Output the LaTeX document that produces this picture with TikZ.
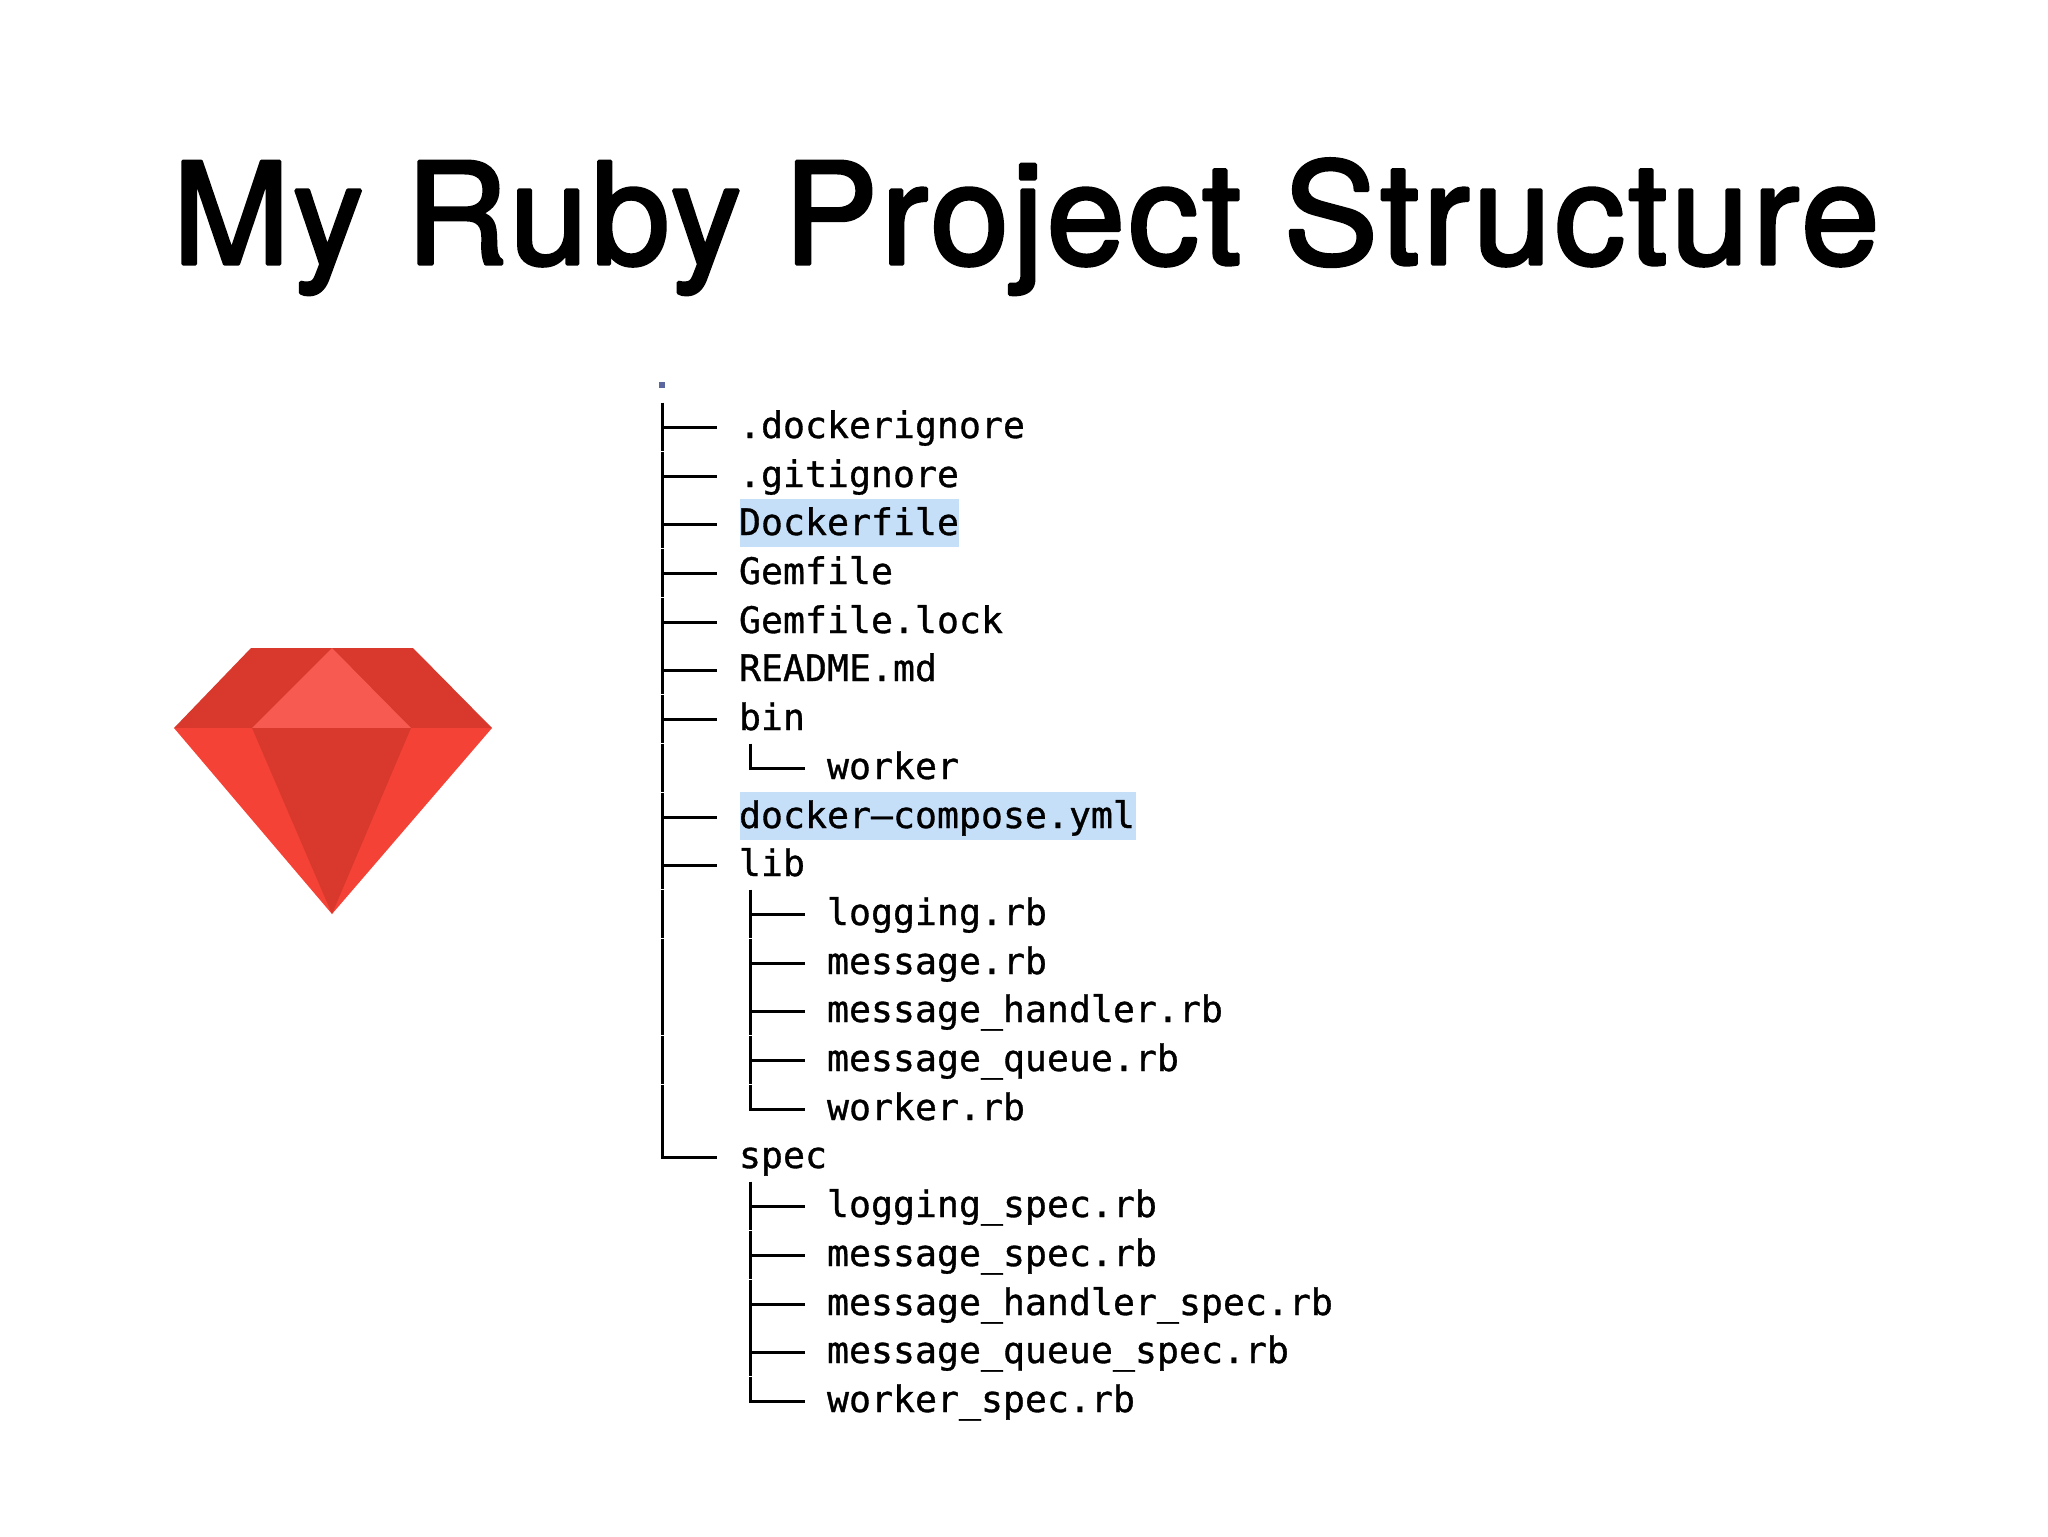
\documentclass[tikz,border=0pt]{standalone}
\usepackage{fontspec}
\setmainfont{Liberation Sans}
\newfontfamily\treefont[FakeBold=0.9]{DejaVu Sans Mono}
\newfontfamily\titlefont[FakeBold=2.4,LetterSpace=2.3]{TeX Gyre Heros}
\definecolor{gemdark}{HTML}{D8392C}
\definecolor{gemmid}{HTML}{F44336}
\definecolor{gemlight}{HTML}{F65A50}
\definecolor{hilite}{HTML}{C6DFF9}
\definecolor{rootdot}{HTML}{5B679E}
\tikzset{
  treeline/.style={draw=black,line width=1.8pt},
  treelabel/.style={anchor=base west,inner sep=0pt,outer sep=0pt,font=\treefont\fontsize{18.27}{20}\selectfont,text=black},
  facet/.style={draw=none},
  hilitebox/.style={fill=hilite,draw=none},
}
\newcommand{\rowy}[1]{round(427+48.7*#1)+0.5}
\begin{document}
\begin{tikzpicture}[x=0.5pt,y=-0.5pt]
\useasboundingbox (0,0) rectangle (2048,1536);
\fill[white] (0,0) rectangle (2048,1536);
\begin{scope}[line join=bevel]
\node[anchor=base,inner sep=0pt,font=\titlefont\fontsize{70.5}{76}\selectfont] (title) at (1026,264) {My Ruby Project Structure};
\end{scope}
% gem
\fill[facet,gemdark] (251,648) -- (413,648) -- (492,728) -- (174,728) -- cycle;
\fill[facet,gemmid] (174,728) -- (492,728) -- (332,914) -- cycle;
\fill[facet,gemlight] (332,648) -- (411,728) -- (252,728) -- cycle;
\fill[facet,gemdark] (252,728) -- (411,728) -- (332,914) -- cycle;
% highlights
\fill[hilitebox] (740,{\rowy{2}-26}) rectangle (959,{\rowy{2}+22.5});
\fill[hilitebox] (740,{\rowy{8}-26}) rectangle (1136,{\rowy{8}+22.5});
% root
\fill[rootdot] (659,382) rectangle (665,388);
% trunk, one piece per row
\foreach \i in {0,...,14}{
  \coordinate (p\i) at (662.5,{\rowy{\i}-24.8});
  \coordinate (q\i) at (662.5,{\rowy{\i}+23.2});
  \draw[treeline] (p\i) -- (q\i);
}
\coordinate (p15) at (662.5,{\rowy{15}-24.8});
\coordinate (q15) at (662.5,{\rowy{15}+1.8});
\draw[treeline] (p15) -- (q15);
\foreach \i/\t in {0/.dockerignore,1/.gitignore,2/Dockerfile,3/Gemfile,4/Gemfile.lock,5/README.md,6/bin,8/docker–compose.yml,9/lib,15/spec}{
  \coordinate (a\i) at (662.5,{\rowy{\i}});
  \coordinate (b\i) at (717,{\rowy{\i}});
  \node[treelabel] (t\i) at (739,{\rowy{\i}+10.5}) {\t};
  \draw[treeline] (a\i) -- (b\i);
}
\foreach \i/\t in {7/worker,10/logging.rb,11/message.rb,12/message\_handler.rb,13/message\_queue.rb,14/worker.rb,16/logging\_spec.rb,17/message\_spec.rb,18/message\_handler\_spec.rb,19/message\_queue\_spec.rb,20/worker\_spec.rb}{
  \coordinate (a\i) at (750.5,{\rowy{\i}});
  \coordinate (b\i) at (805,{\rowy{\i}});
  \node[treelabel] (t\i) at (827,{\rowy{\i}+10.5}) {\t};
  \draw[treeline] (a\i) -- (b\i);
}
\foreach \i in {10,11,12,13,16,17,18,19}{
  \coordinate (p\i) at (750.5,{\rowy{\i}-24.8});
  \coordinate (q\i) at (750.5,{\rowy{\i}+23.2});
  \draw[treeline] (p\i) -- (q\i);
}
\foreach \i in {7,14,20}{
  \coordinate (p\i) at (750.5,{\rowy{\i}-24.8});
  \coordinate (q\i) at (750.5,{\rowy{\i}+1.8});
  \draw[treeline] (p\i) -- (q\i);
}
\end{tikzpicture}
\end{document}
